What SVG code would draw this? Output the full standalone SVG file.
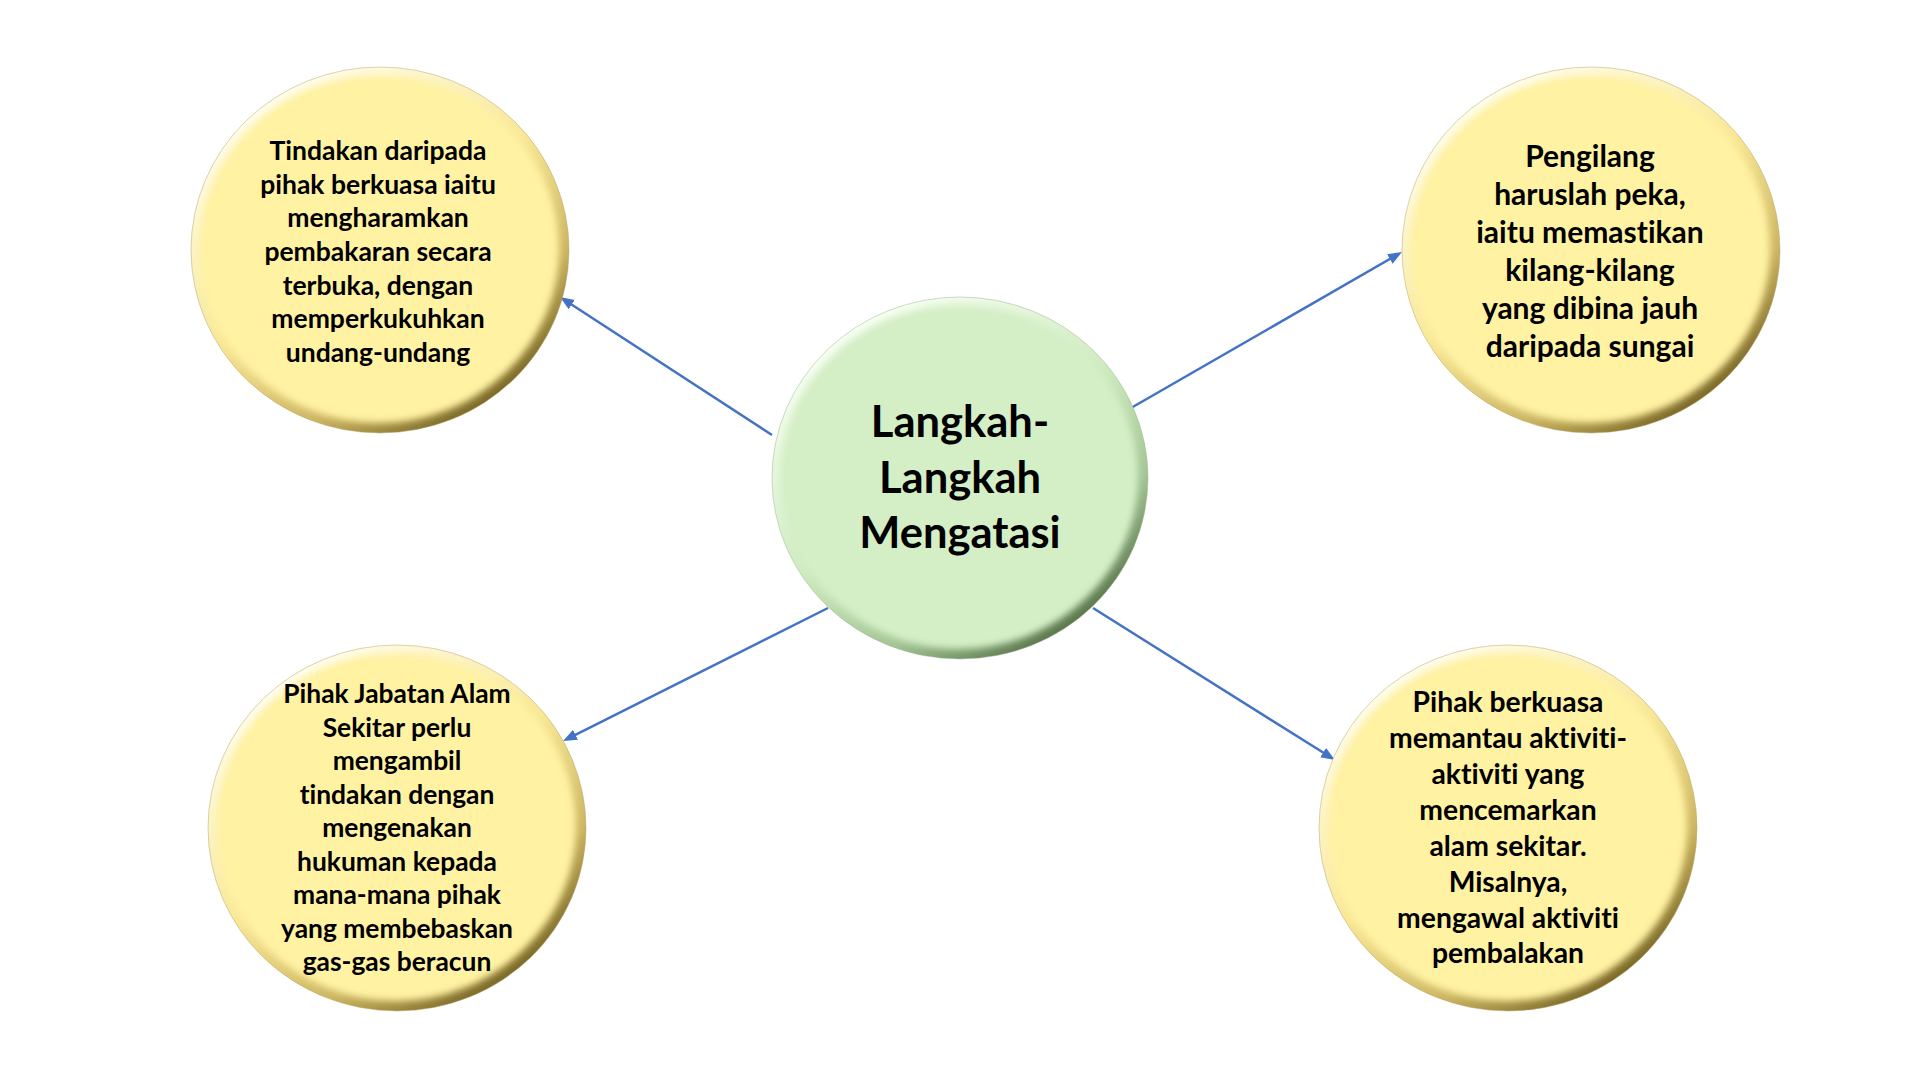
<svg xmlns="http://www.w3.org/2000/svg" width="1920" height="1080" viewBox="0 0 1920 1080">
<defs>
  <linearGradient id="bevY" x1="0.2" y1="0.1" x2="0.8" y2="0.95">
    <stop offset="0" stop-color="#FFFDEE"/>
    <stop offset="0.45" stop-color="#F8E795"/>
    <stop offset="0.75" stop-color="#CDB662"/>
    <stop offset="1" stop-color="#6E5C1E"/>
  </linearGradient>
  <linearGradient id="bevG" x1="0.2" y1="0.1" x2="0.8" y2="0.95">
    <stop offset="0" stop-color="#F7FFF2"/>
    <stop offset="0.45" stop-color="#CFEBC0"/>
    <stop offset="0.75" stop-color="#A3C494"/>
    <stop offset="1" stop-color="#4E6B40"/>
  </linearGradient>
  <filter id="soft" x="-10%" y="-10%" width="120%" height="120%">
    <feGaussianBlur stdDeviation="3.5"/>
  </filter>
  <marker id="arr" markerUnits="userSpaceOnUse" markerWidth="14" markerHeight="12" refX="8" refY="6" orient="auto">
    <path d="M0,0.5 L14,6 L0,11.5 Z" fill="#4472C4"/>
  </marker>
  <style>
    .conn { stroke:#4472C4; stroke-width:2.5; fill:none; marker-end:url(#arr); }
    .faceY { fill:#FFF2A3; }
    .faceG { fill:#D4EEC6; }
    .edge { stroke:#B8A86A; stroke-width:1; stroke-opacity:0.5; }
    .edgeG { stroke:#9DB890; stroke-width:1; stroke-opacity:0.5; }
    text { font-family:"Lato","Liberation Sans",sans-serif; font-weight:700; fill:#000; text-anchor:middle; font-variant-ligatures:none; font-feature-settings:"liga" 0, "clig" 0, "dlig" 0; }
    .t1 { font-size:26.5px; }
    .t2 { font-size:30px; }
    .t3 { font-size:28.3px; }
    .t4 { font-size:26.4px; }
    .tc { font-size:43.5px; }
  </style>
</defs>
<rect width="1920" height="1080" fill="#FFFFFF"/>

<g id="connectors">
  <line class="conn" x1="772" y1="435" x2="565" y2="300.3"/>
  <line class="conn" x1="1131" y1="408" x2="1396.8" y2="255"/>
  <line class="conn" x1="828" y1="608" x2="568.4" y2="738.3"/>
  <line class="conn" x1="1093" y1="608" x2="1329.9" y2="756.8"/>
</g>

<g id="node-center">
  <ellipse cx="960" cy="478" rx="188" ry="181" fill="url(#bevG)" class="edgeG"/>
  <ellipse cx="959" cy="477" rx="179" ry="172" class="faceG" filter="url(#soft)"/>
  <text class="tc" x="960" y="437">Langkah-</text>
  <text class="tc" x="960" y="493">Langkah</text>
  <text class="tc" x="960" y="548">Mengatasi</text>
</g>

<g id="node-tl">
  <ellipse cx="380" cy="250" rx="189" ry="183" fill="url(#bevY)" class="edge"/>
  <ellipse cx="379" cy="249" rx="180" ry="174" class="faceY" filter="url(#soft)"/>
  <text class="t1" x="378" y="160">Tindakan daripada</text>
  <text class="t1" x="378" y="194">pihak berkuasa iaitu</text>
  <text class="t1" x="378" y="227">mengharamkan</text>
  <text class="t1" x="378" y="261">pembakaran secara</text>
  <text class="t1" x="378" y="295">terbuka, dengan</text>
  <text class="t1" x="378" y="328">memperkukuhkan</text>
  <text class="t1" x="378" y="362">undang-undang</text>
</g>

<g id="node-tr">
  <ellipse cx="1591" cy="250" rx="189" ry="183" fill="url(#bevY)" class="edge"/>
  <ellipse cx="1590" cy="249" rx="180" ry="174" class="faceY" filter="url(#soft)"/>
  <text class="t2" x="1590" y="167">Pengilang</text>
  <text class="t2" x="1590" y="205">haruslah peka,</text>
  <text class="t2" x="1590" y="243">iaitu memastikan</text>
  <text class="t2" x="1590" y="281">kilang-kilang</text>
  <text class="t2" x="1590" y="319">yang dibina jauh</text>
  <text class="t2" x="1590" y="357">daripada sungai</text>
</g>

<g id="node-bl">
  <ellipse cx="397" cy="828" rx="189" ry="183" fill="url(#bevY)" class="edge"/>
  <ellipse cx="396" cy="827" rx="180" ry="174" class="faceY" filter="url(#soft)"/>
  <text class="t4" x="397" y="703">Pihak Jabatan Alam</text>
  <text class="t4" x="397" y="737">Sekitar perlu</text>
  <text class="t4" x="397" y="770">mengambil</text>
  <text class="t4" x="397" y="804">tindakan dengan</text>
  <text class="t4" x="397" y="837">mengenakan</text>
  <text class="t4" x="397" y="871">hukuman kepada</text>
  <text class="t4" x="397" y="904">mana-mana pihak</text>
  <text class="t4" x="397" y="938">yang membebaskan</text>
  <text class="t4" x="397" y="971">gas-gas beracun</text>
</g>

<g id="node-br">
  <ellipse cx="1508" cy="828" rx="189" ry="183" fill="url(#bevY)" class="edge"/>
  <ellipse cx="1507" cy="827" rx="180" ry="174" class="faceY" filter="url(#soft)"/>
  <text class="t3" x="1508" y="712">Pihak berkuasa</text>
  <text class="t3" x="1508" y="748">memantau aktiviti-</text>
  <text class="t3" x="1508" y="784">aktiviti yang</text>
  <text class="t3" x="1508" y="820">mencemarkan</text>
  <text class="t3" x="1508" y="856">alam sekitar.</text>
  <text class="t3" x="1508" y="892">Misalnya,</text>
  <text class="t3" x="1508" y="928">mengawal aktiviti</text>
  <text class="t3" x="1508" y="963">pembalakan</text>
</g>
</svg>
